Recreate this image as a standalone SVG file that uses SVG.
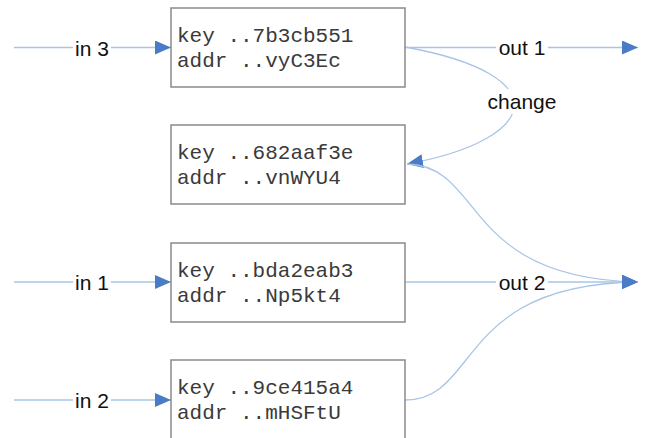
<svg xmlns="http://www.w3.org/2000/svg" width="646" height="438" viewBox="0 0 646 438">
<style>
.box{fill:#fff;stroke:#8a8a8a;stroke-width:1.5}
.mono{font-family:"Liberation Mono","Courier New",monospace;font-size:21px;fill:#3a3a3a}
.lbl{font-family:"Liberation Sans",Arial,sans-serif;font-size:21px;fill:#111;text-anchor:middle;dominant-baseline:central}
.edge{fill:none;stroke:#a9c4e6;stroke-width:1.3}
.bg{fill:#fff}
</style>
<defs>
<marker id="arr" markerWidth="16" markerHeight="14" refX="16" refY="7" orient="auto" markerUnits="userSpaceOnUse">
<path d="M0,0 L16,7 L0,14 Z" fill="#4a7cc6"/>
</marker>
</defs>
<rect width="646" height="438" fill="#fff"/>
<g id="connectors">
<path class="edge" d="M14,47.5 H171" marker-end="url(#arr)"/>
<path class="edge" d="M14,282 H171" marker-end="url(#arr)"/>
<path class="edge" d="M14,400 H171" marker-end="url(#arr)"/>
<path class="edge" d="M405,47.5 H638" marker-end="url(#arr)"/>
<path class="edge" d="M405,47 C560,75 540,140 407,164" marker-end="url(#arr)"/>
<path class="edge" d="M405,282 H638" marker-end="url(#arr)"/>
<path class="edge" d="M407,164 C485,166 460,278 638,282" marker-end="url(#arr)"/>
<path class="edge" d="M405,400 C480,400 455,284 638,282" marker-end="url(#arr)"/>
<rect class="bg" x="73" y="36" width="38" height="24"/>
<text class="lbl" x="92" y="48">in 3</text>
<rect class="bg" x="73" y="270" width="38" height="24"/>
<text class="lbl" x="92" y="282">in 1</text>
<rect class="bg" x="73" y="388" width="38" height="24"/>
<text class="lbl" x="92" y="400">in 2</text>
<rect class="bg" x="496" y="36" width="52" height="24"/>
<text class="lbl" x="522" y="47">out 1</text>
<rect class="bg" x="482" y="89" width="80" height="25"/>
<text class="lbl" x="522" y="101">change</text>
<rect class="bg" x="496" y="271" width="52" height="22"/>
<text class="lbl" x="522" y="282">out 2</text>
</g>
<g id="node1">
<rect class="box" x="171" y="8" width="234" height="79"/>
<text class="mono" x="177" y="42">key ..7b3cb551</text>
<text class="mono" x="177" y="67">addr ..vyC3Ec</text>
</g>
<g id="node2">
<rect class="box" x="171" y="125" width="234" height="79"/>
<text class="mono" x="177" y="159">key ..682aaf3e</text>
<text class="mono" x="177" y="184">addr ..vnWYU4</text>
</g>
<g id="node3">
<rect class="box" x="171" y="243" width="234" height="79"/>
<text class="mono" x="177" y="277">key ..bda2eab3</text>
<text class="mono" x="177" y="302">addr ..Np5kt4</text>
</g>
<g id="node4">
<rect class="box" x="171" y="360" width="234" height="79"/>
<text class="mono" x="177" y="394">key ..9ce415a4</text>
<text class="mono" x="177" y="419">addr ..mHSFtU</text>
</g>
</svg>
